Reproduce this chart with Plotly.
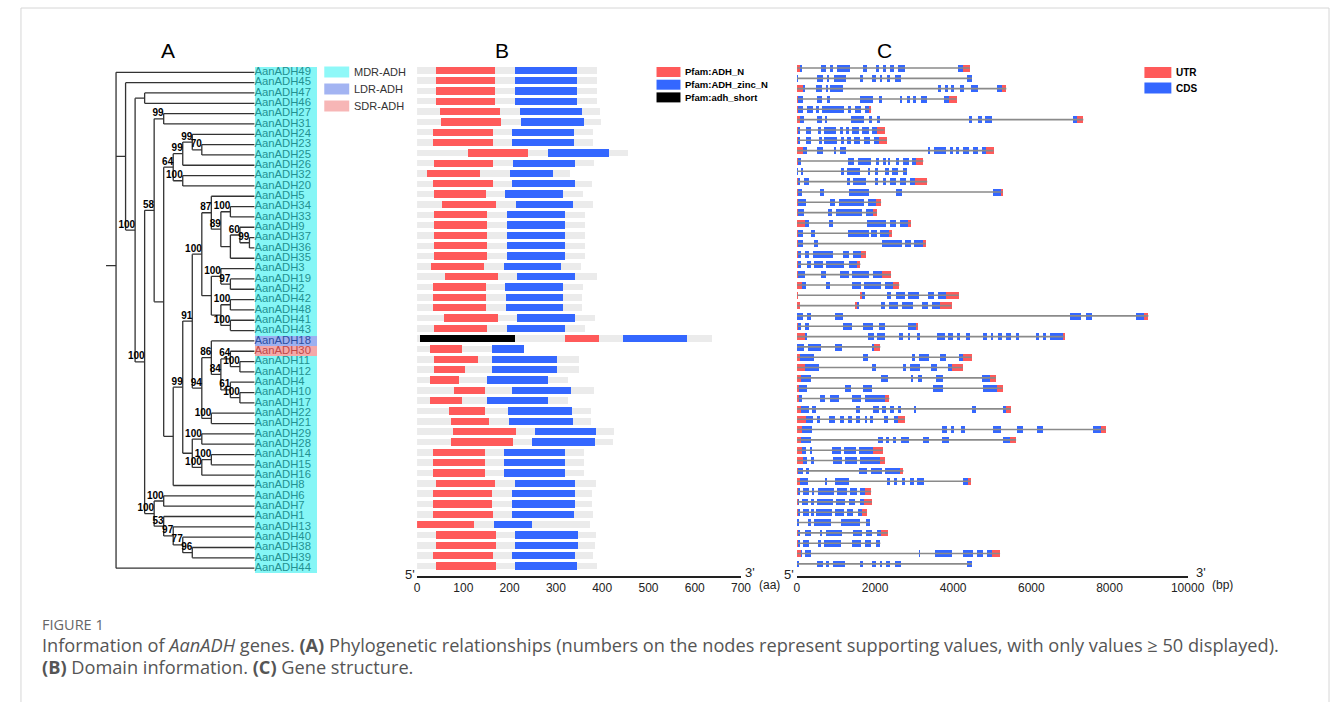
import plotly.graph_objects as go

W, H = 1330, 702          # target picture size (paper fractions are computed against this)
LAYOUT_W = 1347           # page width that ends up mapped onto the 1330-px picture

# ---------------- DATA ----------------
# phylogeny, built from named clades (Newick; numbers = support values)
clade_J = "(((AanADH24,(AanADH23,AanADH25)70)99,AanADH26)99,(AanADH32,AanADH20)100)64"
clade_P = ("((AanADH5,((AanADH34,AanADH33)100,((AanADH9,(AanADH37,AanADH36)99)60,AanADH35))89)87,"
           "((AanADH3,(AanADH19,AanADH2)97)100,((AanADH42,AanADH48)100,(AanADH41,AanADH43)100)))100")
clade_Q = ("((AanADH18,((AanADH30,(AanADH11,AanADH12)100)64,(AanADH4,(AanADH10,AanADH17)100)61)84)86,"
           "(AanADH22,AanADH21)100)94")
clade_N = "((AanADH29,AanADH28)100,((AanADH14,AanADH15)100,AanADH16)100)"
clade_G = "((AanADH6,AanADH7)100,(AanADH1,(AanADH13,(AanADH40,(AanADH38,AanADH39)96)77)97)53)100"
tree_newick = ("(AanADH49,(AanADH45,((AanADH47,AanADH46),(((AanADH27,AanADH31)99,(" + clade_J +
               ",(((" + clade_P + "," + clade_Q + ")91," + clade_N + ")99,AanADH8)))58," + clade_G +
               ")100)100),AanADH44)")

genes = ["AanADH49", "AanADH45", "AanADH47", "AanADH46", "AanADH27", "AanADH31", "AanADH24",
         "AanADH23", "AanADH25", "AanADH26", "AanADH32", "AanADH20", "AanADH5", "AanADH34",
         "AanADH33", "AanADH9", "AanADH37", "AanADH36", "AanADH35", "AanADH3", "AanADH19",
         "AanADH2", "AanADH42", "AanADH48", "AanADH41", "AanADH43", "AanADH18", "AanADH30",
         "AanADH11", "AanADH12", "AanADH4", "AanADH10", "AanADH17", "AanADH22", "AanADH21",
         "AanADH29", "AanADH28", "AanADH14", "AanADH15", "AanADH16", "AanADH8", "AanADH6",
         "AanADH7", "AanADH1", "AanADH13", "AanADH40", "AanADH38", "AanADH39", "AanADH44"]

family = {"AanADH18": "LDR-ADH", "AanADH30": "SDR-ADH"}  # all others MDR-ADH

# protein length (aa) and Pfam domains (aa)
prot_len = [388, 388, 388, 388, 395, 397, 381, 381, 456, 382, 331, 379, 358, 381, 362, 362, 362,
            362, 364, 354, 388, 359, 357, 357, 385, 362, 638, 232, 350, 349, 326, 383, 327, 375,
            377, 426, 423, 360, 360, 360, 386, 379, 379, 381, 373, 386, 385, 380, 388]
adhN_start = [40, 40, 40, 40, 49, 51, 35, 35, 110, 36, 22, 35, 37, 55, 37, 37, 37, 37, 37, 30, 60,
              34, 34, 34, 59, 36, 319, 27, 37, 37, 27, 81, 27, 70, 73, 78, 73, 35, 35, 35, 40, 35,
              35, 35, 0, 40, 40, 35, 40]
adhN_end = [169, 169, 169, 169, 180, 182, 164, 164, 240, 165, 137, 164, 149, 171, 152, 152, 152,
            152, 152, 145, 175, 150, 150, 150, 175, 152, 394, 98, 132, 103, 91, 147, 98, 146, 155,
            213, 207, 147, 147, 147, 168, 163, 163, 164, 124, 170, 170, 165, 170]
zinc_start = [212, 212, 212, 212, 223, 225, 206, 206, 282, 207, 201, 206, 191, 213, 194, 194, 194,
              194, 194, 188, 217, 191, 192, 192, 217, 194, 446, 163, 162, 162, 151, 205, 151, 196,
              199, 254, 249, 188, 188, 188, 211, 206, 206, 206, 167, 211, 211, 206, 211]
zinc_end = [345, 345, 345, 345, 357, 360, 340, 340, 415, 341, 293, 341, 316, 338, 319, 319, 319,
            319, 319, 312, 342, 315, 316, 316, 342, 319, 584, 231, 302, 302, 282, 332, 284, 334,
            337, 387, 385, 320, 320, 320, 342, 341, 341, 339, 249, 347, 347, 342, 345]
short_gene = ["AanADH18"]
short_start = [7]
short_end = [211]

# gene structures (bp): U = UTR, C = CDS
gene_struct = [
    "U0-70 C70-130 C620-750 C860-910 C1020-1345 C1700-1780 C2025-2100 C2205-2280 C2380-2475 C2595-2765 C4130-4245 U4245-4425",
    "C0-25 C520-655 C775-825 C935-1250 C1615-1700 C1930-2010 C2120-2185 C2300-2375 C2500-2665 C4360-4480",
    "U0-150 C150-210 C495-640 C730-790 C840-1180 C3600-3685 C3780-3855 C3950-4025 C4170-4265 C4460-4620 C5115-5235 U5235-5360",
    "U0-25 C25-150 C510-645 C790-840 C1610-1940 C2110-2180 C2630-2700 C2825-2895 C2970-3055 C3175-3330 C3770-3880 U3880-4085",
    "U0-25 C25-150 C265-400 C510-560 C640-1190 C1300-1390 C1490-1650 C1750-1845 U1845-1900",
    "U0-70 C70-170 C500-640 C720-765 C1385-1710 C1830-1915 C2050-2130 C4410-4470 C4630-4730 C4820-4980 C7055-7165 U7165-7330",
    "U0-25 C25-85 C230-365 C555-605 C680-1005 C1090-1185 C1260-1335 C1420-1580 C1675-1830 C1915-2035 U2035-2240",
    "U0-25 C25-85 C230-365 C580-630 C700-1020 C1115-1200 C1285-1370 C1455-1610 C1710-1865 C1975-2095 U2095-2305",
    "U0-150 C150-255 C520-655 C960-1005 C1105-1250 C3345-3405 C3500-3815 C3925-4000 C4075-4155 C4240-4390 C4495-4630 C4730-4845 U4845-5030",
    "U0-25 C25-95 C1300-1470 C1565-1890 C2015-2095 C2205-2265 C2325-2390 C2535-2620 C2725-2875 C2945-3045 U3045-3235",
    "C0-25 C95-150 C1140-1190 C1285-1600 C1805-1880 C2000-2075 C2245-2355 C2435-2595 C2715-2810",
    "U0-25 C25-85 C180-315 C1295-1345 C1440-1770 C1990-2075 C2195-2280 C2380-2535 C2630-2800 C2900-3020 U3020-3335",
    "U0-10 C10-130 C580-700 C1330-1840 C2535-2680 C5020-5215 U5215-5275",
    "U0-25 C25-220 C850-960 C1065-1725 C1805-2010 U2010-2155",
    "U0-25 C25-170 C800-900 C995-1670 C1755-1950 U1950-2050",
    "U0-210 C210-305 C810-930 C1780-2290 C2380-2535 C2630-2835 U2835-2920",
    "U0-25 C25-150 C350-470 C1300-1830 C1900-2050 C2130-2350 U2350-2425",
    "U0-25 C25-150 C425-535 C2180-2690 C2765-2920 C3005-3215 U3215-3300",
    "U0-10 C10-110 C195-300 C400-920 C1185-1335 C1440-1650 U1650-1755",
    "U0-10 C10-110 C245-350 C425-655 C750-1190 C1330-1530 U1530-1625",
    "U0-25 C25-210 C620-740 C1105-1335 C1410-1855 C1955-2180 U2180-2410",
    "U0-130 C130-240 C730-850 C1405-1640 C1710-2150 C2255-2460 U2460-2620",
    "U0-15 U1625-1665 C1665-1730 C2305-2410 C2525-2755 C2840-3115 C3355-3515 C3610-3815 U3815-4145",
    "U0-70 U1490-1525 C1525-1585 C2155-2255 C2365-2595 C2680-2960 C3210-3355 C3455-3650 U3650-3955",
    "C0-150 C255-355 C960-1185 C6980-7260 C7390-7540 C8665-8875 U8875-8995",
    "U0-10 C10-110 C195-300 C1185-1395 C1685-1955 C2100-2245 C2845-3055 U3055-3090",
    "U0-210 C210-265 C1810-1980 C2060-2240 C2605-2705 C2835-2895 C3065-3140 C3590-3785 C3855-3985 C4085-4180 C4315-4415 C4755-4850 C4955-5020 C5140-5250 C5360-5480 C5610-5685 C6110-6195 C6290-6365 C6485-6825 U6825-6850",
    "C0-180 C280-605 C985-1155 C1940-1965 U1965-2135",
    "U0-85 C85-425 C1700-1810 C2945-3030 C3115-3370 C3670-3815 C4155-4245 U4245-4470",
    "U0-210 C210-555 C1915-2010 C2715-2800 C2900-3140 C3440-3575 C3870-3955 U3955-4240",
    "U0-110 C110-365 C2160-2340 C2910-2980 C3105-3200 C3565-3730 C4730-4935 U4935-5090",
    "U0-40 C40-265 C1235-1380 C1700-1930 C3480-3745 C4760-5125 U5125-5260",
    "U0-40 C40-130 C580-705 C850-1065 C1395-1645 C1730-2240 U2240-2365",
    "U0-110 C110-300 C380-485 C1505-1625 C1955-2095 C2185-2290 C2385-2495 C2595-2665 C3000-3055 C4470-4570 C5260-5355 U5355-5475",
    "U0-240 C240-415 C510-595 C825-960 C1090-1210 C1310-1405 C1515-1610 C1730-1795 C1870-1950 C2220-2340 C2495-2585 U2585-2765",
    "U0-130 C130-385 C3720-3840 C3930-4010 C4195-4290 C5015-5215 C5635-5780 C6135-6305 C7585-7770 U7770-7900",
    "U0-110 C110-350 C2085-2195 C2280-2350 C2445-2535 C2665-2860 C3215-3380 C3720-3880 C5270-5455 U5455-5610",
    "U0-130 C130-220 C340-390 C895-1115 C1215-1515 C1585-1955 U1955-2195",
    "U0-150 C150-255 C365-425 C920-1150 C1240-1540 C1615-2125 U2125-2240",
    "U0-25 C25-150 C245-295 C1575-1795 C1890-2170 C2255-2645 U2645-2725",
    "U0-70 C70-280 C730-775 C985-1320 C2300-2385 C2470-2555 C2690-2765 C2885-2985 C3070-3245 C4255-4365 U4365-4450",
    "U0-25 C25-65 C150-305 C390-440 C535-945 C1020-1275 C1355-1525 C1625-1730 U1730-1900",
    "U0-25 C25-60 C135-280 C365-425 C510-925 C995-1240 C1335-1490 C1600-1710 U1710-1915",
    "U0-25 C25-65 C150-300 C380-425 C475-895 C960-1200 C1285-1440 C1565-1670 U1670-1785",
    "C0-35 C300-350 C435-860 C1130-1625 C1770-1865",
    "U0-25 C25-85 C195-350 C605-645 C730-1150 C1430-1660 C1760-1915 C2035-2145 U2145-2325",
    "U0-25 C25-65 C150-305 C560-610 C690-1115 C1405-1645 C1745-1900 C2015-2135",
    "U0-95 C95-130 C205-350 C3125-3140 C3540-3965 C4240-4495 C4595-4750 C4875-4985 U4985-5200",
    "C0-35 C510-655 C765-815 C920-1240 C1615-1700 C1930-2010 C2120-2180 C2280-2385 C2500-2665 C4350-4480",
]

aa_ticks = [0, 100, 200, 300, 400, 500, 600, 700]
bp_ticks = [0, 2000, 4000, 6000, 8000, 10000]

# ---------------- STYLE ----------------
FONT = "Liberation Sans, Arial, sans-serif"
RED = "#FF5A5A"
BLUE = "#3467FF"
GRAY = "#EBEBEB"
family_fill = {"MDR-ADH": "#85F6F6", "LDR-ADH": "#9DB0F0", "SDR-ADH": "#F5A8A8"}
family_text = {"MDR-ADH": "#239191", "LDR-ADH": "#2E4FA0", "SDR-ADH": "#C04848"}
legend_fill = {"MDR-ADH": "#8FF8F8", "LDR-ADH": "#A3B4F2", "SDR-ADH": "#F7B6B6"}


def px(x):
    return x / W


def py(y):
    return 1 - y / H


# ---------------- TREE LAYOUT ----------------
def parse_newick(s):
    pos = 0

    def node():
        nonlocal pos
        if s[pos] == "(":
            pos += 1
            kids = [node()]
            while s[pos] == ",":
                pos += 1
                kids.append(node())
            pos += 1  # ')'
            lab = ""
            while pos < len(s) and s[pos] not in ",)":
                lab += s[pos]
                pos += 1
            return {"children": kids, "label": lab.strip()}
        name = ""
        while s[pos] not in ",)":
            name += s[pos]
            pos += 1
        return {"children": [], "name": name.strip()}

    return node()


root = parse_newick(tree_newick)
row_of = {g: i for i, g in enumerate(genes)}
LEAF_END = 14.52


def place(n, depth):
    n["depth"] = depth
    if not n["children"]:
        n["y"] = row_of[n["name"]]
    else:
        for c in n["children"]:
            place(c, depth + 1)
        n["y"] = sum(c["y"] for c in n["children"]) / len(n["children"])


place(root, 0)

tx, ty = [], []
lab_x, lab_y, lab_t = [], [], []


def draw(n):
    if not n["children"]:
        return
    ys = [c["y"] for c in n["children"]]
    tx.extend([n["depth"], n["depth"], None])
    ty.extend([min(ys), max(ys), None])
    for c in n["children"]:
        xe = LEAF_END if not c["children"] else c["depth"]
        tx.extend([n["depth"], xe, None])
        ty.extend([c["y"], c["y"], None])
        if c["children"] and c.get("label"):
            lab_x.append(c["depth"])
            lab_y.append(c["y"])
            lab_t.append(c["label"])
        draw(c)


draw(root)
tx.extend([-1.05, 0, None])
ty.extend([root["y"], root["y"], None])

fig = go.Figure()

# label boxes
fams = [family.get(g, "MDR-ADH") for g in genes]
fig.add_trace(go.Bar(
    y=list(range(len(genes))), x=[6.5] * len(genes), base=[LEAF_END] * len(genes),
    orientation="h", width=1.0, marker=dict(color=[family_fill[f] for f in fams], line=dict(width=0)),
    xaxis="x", yaxis="y", showlegend=False, hoverinfo="skip"))
fig.add_trace(go.Scatter(x=tx, y=ty, mode="lines", line=dict(color="#333333", width=1.3),
                         xaxis="x", yaxis="y", showlegend=False, hoverinfo="skip"))
fig.add_trace(go.Scatter(x=[LEAF_END] * len(genes), y=list(range(len(genes))), mode="text",
                         text=genes, textposition="middle right",
                         textfont=dict(family=FONT, size=11.3, color=[family_text[f] for f in fams]),
                         xaxis="x", yaxis="y", showlegend=False, hoverinfo="skip"))
fig.add_trace(go.Scatter(x=lab_x, y=lab_y, mode="text", text=lab_t, textposition="top left",
                         textfont=dict(family=FONT, size=10, color="black", weight="bold"),
                         xaxis="x", yaxis="y", showlegend=False, hoverinfo="skip"))

# ---------------- DOMAINS (panel B) ----------------
rows = list(range(len(genes)))
fig.add_trace(go.Bar(y=rows, x=prot_len, base=[0] * len(rows), orientation="h", width=0.64,
                     marker=dict(color=GRAY, line=dict(width=0)), xaxis="x2", yaxis="y2",
                     showlegend=False, hoverinfo="skip"))
fig.add_trace(go.Bar(y=rows, x=[e - s for s, e in zip(adhN_start, adhN_end)], base=adhN_start,
                     orientation="h", width=0.71, marker=dict(color=RED, line=dict(width=0)),
                     xaxis="x2", yaxis="y2", showlegend=False, hoverinfo="skip"))
fig.add_trace(go.Bar(y=rows, x=[e - s for s, e in zip(zinc_start, zinc_end)], base=zinc_start,
                     orientation="h", width=0.71, marker=dict(color=BLUE, line=dict(width=0)),
                     xaxis="x2", yaxis="y2", showlegend=False, hoverinfo="skip"))
fig.add_trace(go.Bar(y=[row_of[g] for g in short_gene], x=[e - s for s, e in zip(short_start, short_end)],
                     base=short_start, orientation="h", width=0.71,
                     marker=dict(color="black", line=dict(width=0)),
                     xaxis="x2", yaxis="y2", showlegend=False, hoverinfo="skip"))

# ---------------- GENE STRUCTURE (panel C) ----------------
ix, iy = [], []
seg = {"U": ([], [], []), "C": ([], [], [])}
for r, sdef in enumerate(gene_struct):
    parts = []
    for tok in sdef.split():
        k = tok[0]
        a, b = tok[1:].split("-")
        parts.append((k, float(a), float(b)))
    ix.extend([min(p[1] for p in parts), max(p[2] for p in parts), None])
    iy.extend([r, r, None])
    for k, a, b in parts:
        seg[k][0].append(r)
        seg[k][1].append(b - a)
        seg[k][2].append(a)

fig.add_trace(go.Scatter(x=ix, y=iy, mode="lines", line=dict(color="#8a8a8a", width=1.6),
                         xaxis="x3", yaxis="y3", showlegend=False, hoverinfo="skip"))
for k, col in (("C", BLUE), ("U", RED)):
    yv, xv, bv = seg[k]
    fig.add_trace(go.Bar(y=yv, x=xv, base=bv, orientation="h", width=0.66,
                         marker=dict(color=col, line=dict(width=0)),
                         xaxis="x3", yaxis="y3", showlegend=False, hoverinfo="skip"))

# ---------------- LAYOUT ----------------
shapes = []
annotations = []

# outer frame
shapes.append(dict(type="rect", xref="paper", yref="paper", x0=px(18), x1=px(1329), y0=py(712), y1=py(8),
                   line=dict(color="#d6d6d6", width=1), layer="below"))

# family legend
for i, f in enumerate(["MDR-ADH", "LDR-ADH", "SDR-ADH"]):
    yc = 72 + 17 * i
    shapes.append(dict(type="rect", xref="paper", yref="paper", x0=px(322), x1=px(347),
                       y0=py(yc + 5.5), y1=py(yc - 5.5), fillcolor=legend_fill[f], line=dict(width=0)))
    annotations.append(dict(xref="paper", yref="paper", x=px(350), y=py(yc), text=f, showarrow=False,
                            xanchor="left", yanchor="middle", font=dict(family=FONT, size=11, color="#333")))

# Pfam legend
for i, (lab, col) in enumerate([("Pfam:ADH_N", RED), ("Pfam:ADH_zinc_N", BLUE), ("Pfam:adh_short", "black")]):
    yc = 72 + 12.7 * i
    shapes.append(dict(type="rect", xref="paper", yref="paper", x0=px(655), x1=px(679),
                       y0=py(yc + 5), y1=py(yc - 5), fillcolor=col, line=dict(width=0)))
    annotations.append(dict(xref="paper", yref="paper", x=px(682), y=py(yc), text="<b>%s</b>" % lab,
                            showarrow=False, xanchor="left", yanchor="middle",
                            font=dict(family=FONT, size=9.5, color="black")))

# structure legend
for i, (lab, col) in enumerate([("UTR", RED), ("CDS", BLUE)]):
    yc = 72.5 + 15.5 * i
    shapes.append(dict(type="rect", xref="paper", yref="paper", x0=px(1144), x1=px(1171),
                       y0=py(yc + 5.5), y1=py(yc - 5.5), fillcolor=col, line=dict(width=0)))
    annotations.append(dict(xref="paper", yref="paper", x=px(1174), y=py(yc), text="<b>%s</b>" % lab,
                            showarrow=False, xanchor="left", yanchor="middle",
                            font=dict(family=FONT, size=10, color="black")))

# panel letters
for t, x in (("A", 165), ("B", 500), ("C", 883)):
    annotations.append(dict(xref="paper", yref="paper", x=px(x), y=py(50), text=t, showarrow=False,
                            xanchor="center", yanchor="middle", font=dict(family=FONT, size=21, color="black")))

# 5'/3' and units
for t, x, y, xa in (("5'", 408, 574, "center"), ("3'", 749, 572, "center"), ("(aa)", 756, 585, "left"),
                    ("5'", 788, 574, "center"), ("3'", 1201, 572, "center"), ("(bp)", 1210, 585, "left")):
    annotations.append(dict(xref="paper", yref="paper", x=px(x), y=py(y), text=t, showarrow=False,
                            xanchor=xa, yanchor="middle", font=dict(family=FONT, size=13 if "'" in t else 12,
                                                                     color="#222")))

# caption
CAP = "Open Sans, sans-serif"
annotations.append(dict(xref="paper", yref="paper", x=px(37), y=py(624), text="FIGURE 1", showarrow=False,
                        xanchor="left", yanchor="middle", font=dict(family=CAP, size=14.5, color="#666")))
annotations.append(dict(xref="paper", yref="paper", x=px(37), y=py(645),
                        text="Information of <i>AanADH</i> genes. <b>(A)</b> Phylogenetic relationships "
                             "(numbers on the nodes represent supporting values, with only values \u2265 50 displayed).",
                        showarrow=False, xanchor="left", yanchor="middle",
                        font=dict(family=CAP, size=18.2, color="#555")))
annotations.append(dict(xref="paper", yref="paper", x=px(37), y=py(667),
                        text="<b>(B)</b> Domain information. <b>(C)</b> Gene structure.",
                        showarrow=False, xanchor="left", yanchor="middle",
                        font=dict(family=CAP, size=18.2, color="#555")))

hidden = dict(visible=False, showgrid=False, zeroline=False, fixedrange=True)
fig.update_layout(
    width=LAYOUT_W, height=H, autosize=False, margin=dict(l=0, r=0, t=0, b=0),
    paper_bgcolor="white", plot_bgcolor="rgba(0,0,0,0)",
    barmode="overlay", bargap=0, showlegend=False,
    xaxis=dict(domain=[px(90), px(400)], range=[-2.44, 30.02], anchor="y", **hidden),
    yaxis=dict(domain=[py(578.5), py(66.1)], range=[49.0, -0.6], anchor="x", **hidden),
    xaxis2=dict(domain=[px(415), px(739.7)], range=[0, 700], anchor="y2", showgrid=False, zeroline=False,
                showline=True, linecolor="#222", linewidth=2, ticks="", tickvals=aa_ticks,
                ticktext=[str(v) for v in aa_ticks],
                tickfont=dict(family=FONT, size=12, color="#222"), fixedrange=True),
    yaxis2=dict(domain=[py(575.7), py(63.8)], range=[48.955, -0.6], anchor="x2", **hidden),
    xaxis3=dict(domain=[px(795.7), px(1187.3)], range=[0, 10000], anchor="y3", showgrid=False, zeroline=False,
                showline=True, linecolor="#222", linewidth=2, ticks="", tickvals=bp_ticks,
                ticktext=[str(v) for v in bp_ticks],
                tickfont=dict(family=FONT, size=12, color="#222"), fixedrange=True),
    yaxis3=dict(domain=[py(575.7), py(61.8)], range=[49.148, -0.6], anchor="x3", **hidden),
    shapes=shapes, annotations=annotations,
)

fig.write_html(
    "out.html",
    config={"displayModeBar": False},
    post_script="document.body.style.margin='0px';document.body.style.overflow='hidden';",
)
